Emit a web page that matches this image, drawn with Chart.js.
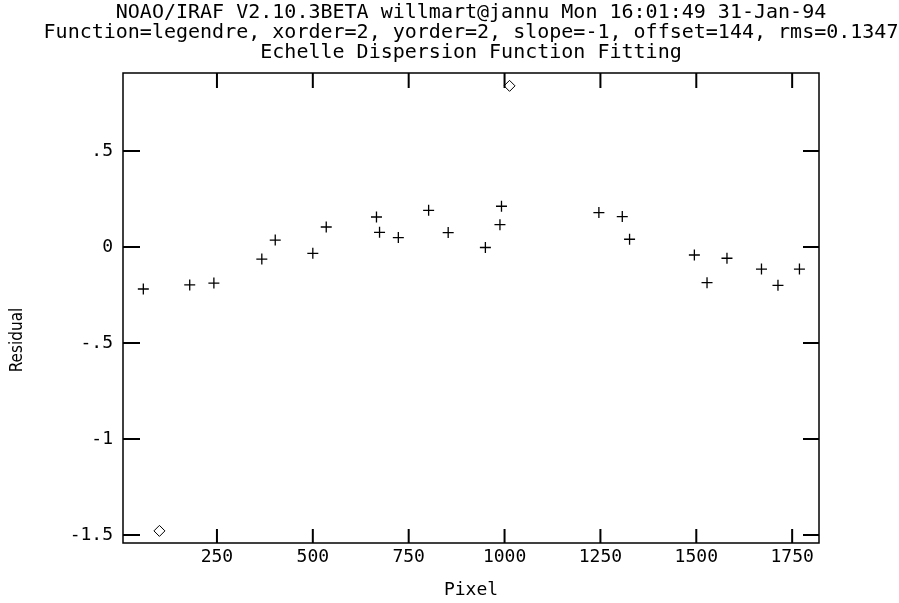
<!DOCTYPE html>
<html>
<head>
<meta charset="utf-8">
<title>Echelle Dispersion Function Fitting</title>
<script src="https://cdn.jsdelivr.net/npm/chart.js@4.4.1/dist/chart.umd.min.js"></script>
<style>
  html, body { margin: 0; padding: 0; background: #fff; }
  canvas { display: block; }
</style>
</head>
<body>
<canvas id="fitChart" width="899" height="603"></canvas>
<script>
// residuals of the fitted lines (+)
const fitPixels = [58, 179, 242, 367, 402, 500, 535, 666, 674, 723, 802, 853,
                   950, 988, 992, 1246, 1307, 1326, 1495, 1528, 1580, 1670, 1713, 1769];
const fitResiduals = [-0.219, -0.198, -0.188, -0.063, 0.036, -0.033, 0.104, 0.156, 0.076, 0.049, 0.191, 0.075,
                      -0.003, 0.116, 0.212, 0.179, 0.158, 0.040, -0.042, -0.186, -0.059, -0.115, -0.200, -0.115];
// rejected points (diamonds)
const rejPixels = [100, 1013];
const rejResiduals = [-1.479, 0.839];

const xTicks = [250, 500, 750, 1000, 1250, 1500, 1750];
const yTicks = [-1.5, -1, -0.5, 0, 0.5];
const yTickLabels = ['-1.5', '-1', '-.5', '0', '.5'];

const titleLines = [
    'NOAO/IRAF V2.10.3BETA willmart@jannu Mon 16:01:49 31-Jan-94',
    'Function=legendre, xorder=2, yorder=2, slope=-1, offset=144, rms=0.1347',
    'Echelle Dispersion Function Fitting'
];
const yAxisLabel = 'Residual';

const monoFont = "'DejaVu Sans Mono', 'Liberation Mono', monospace";
const narrowFont = "'DejaVu Sans Condensed', 'Liberation Sans Narrow', sans-serif";

function toPoints(xs, ys) {
    return xs.map((x, i) => ({ x: x, y: ys[i] }));
}

// frame, inward tick marks on all four sides, header lines and y label
const iraFrame = {
    id: 'iraFrame',
    afterDraw(chart) {
        const ctx = chart.ctx;
        const a = chart.chartArea;
        const xs = chart.scales.x;
        const ys = chart.scales.y;
        ctx.save();
        ctx.strokeStyle = '#000';
        ctx.lineWidth = 1.5;
        ctx.strokeRect(a.left, a.top, a.right - a.left, a.bottom - a.top);

        ctx.lineWidth = 2;
        ctx.beginPath();
        xTicks.forEach(v => {
            const px = xs.getPixelForValue(v);
            ctx.moveTo(px, a.bottom);
            ctx.lineTo(px, a.bottom - 14);
            ctx.moveTo(px, a.top);
            ctx.lineTo(px, a.top + 15);
        });
        yTicks.forEach(v => {
            const py = ys.getPixelForValue(v);
            ctx.moveTo(a.left, py);
            ctx.lineTo(a.left + 17, py);
            ctx.moveTo(a.right, py);
            ctx.lineTo(a.right - 16, py);
        });
        ctx.stroke();

        ctx.fillStyle = '#000';
        ctx.font = '20px ' + monoFont;
        ctx.textAlign = 'center';
        ctx.textBaseline = 'middle';
        const cx = (a.left + a.right) / 2;
        titleLines.forEach((line, i) => {
            ctx.fillText(line, cx, 13 + i * 20);
        });

        // y axis label sits a little below the middle of the axis, as in IRAF
        ctx.translate(18, 340);
        ctx.rotate(-Math.PI / 2);
        ctx.font = '17px ' + narrowFont;
        ctx.fillText(yAxisLabel, 0, 0);
        ctx.restore();
    }
};

const chart = new Chart(document.getElementById('fitChart').getContext('2d'), {
    type: 'scatter',
    data: {
        datasets: [{
            label: 'Fit',
            data: toPoints(fitPixels, fitResiduals),
            pointStyle: 'cross',
            pointRadius: 5.5,
            pointBorderWidth: 1.3,
            borderColor: '#000',
            backgroundColor: '#000'
        }, {
            label: 'Rejected',
            data: toPoints(rejPixels, rejResiduals),
            pointStyle: 'rectRot',
            pointRadius: 5.5,
            pointBorderWidth: 1,
            borderColor: '#000',
            backgroundColor: 'rgba(0,0,0,0)'
        }]
    },
    options: {
        responsive: false,
        animation: false,
        devicePixelRatio: 1,
        layout: {
            padding: { top: 73, left: 0, right: 80, bottom: 0 }
        },
        plugins: {
            legend: { display: false },
            tooltip: { enabled: false },
            title: { display: false }
        },
        scales: {
            x: {
                type: 'linear',
                min: 5,
                max: 1820,
                grid: { display: false, drawTicks: false },
                border: { display: false },
                afterBuildTicks: scale => {
                    scale.ticks = xTicks.map(v => ({ value: v }));
                },
                afterFit: scale => { scale.height = 60; },
                ticks: {
                    color: '#000',
                    padding: 4,
                    maxRotation: 0,
                    font: { family: monoFont, size: 18 },
                    callback: value => String(value)
                },
                title: {
                    display: true,
                    text: 'Pixel',
                    color: '#000',
                    padding: { top: 0, bottom: 2 },
                    font: { family: monoFont, size: 18 }
                }
            },
            y: {
                type: 'linear',
                min: -1.542,
                max: 0.906,
                grid: { display: false, drawTicks: false },
                border: { display: false },
                afterBuildTicks: scale => {
                    scale.ticks = yTicks.map(v => ({ value: v }));
                },
                afterFit: scale => { scale.width = 123; },
                ticks: {
                    color: '#000',
                    padding: 10,
                    font: { family: monoFont, size: 18 },
                    callback: value => yTickLabels[yTicks.indexOf(value)]
                }
            }
        }
    },
    plugins: [iraFrame]
});
</script>
</body>
</html>
